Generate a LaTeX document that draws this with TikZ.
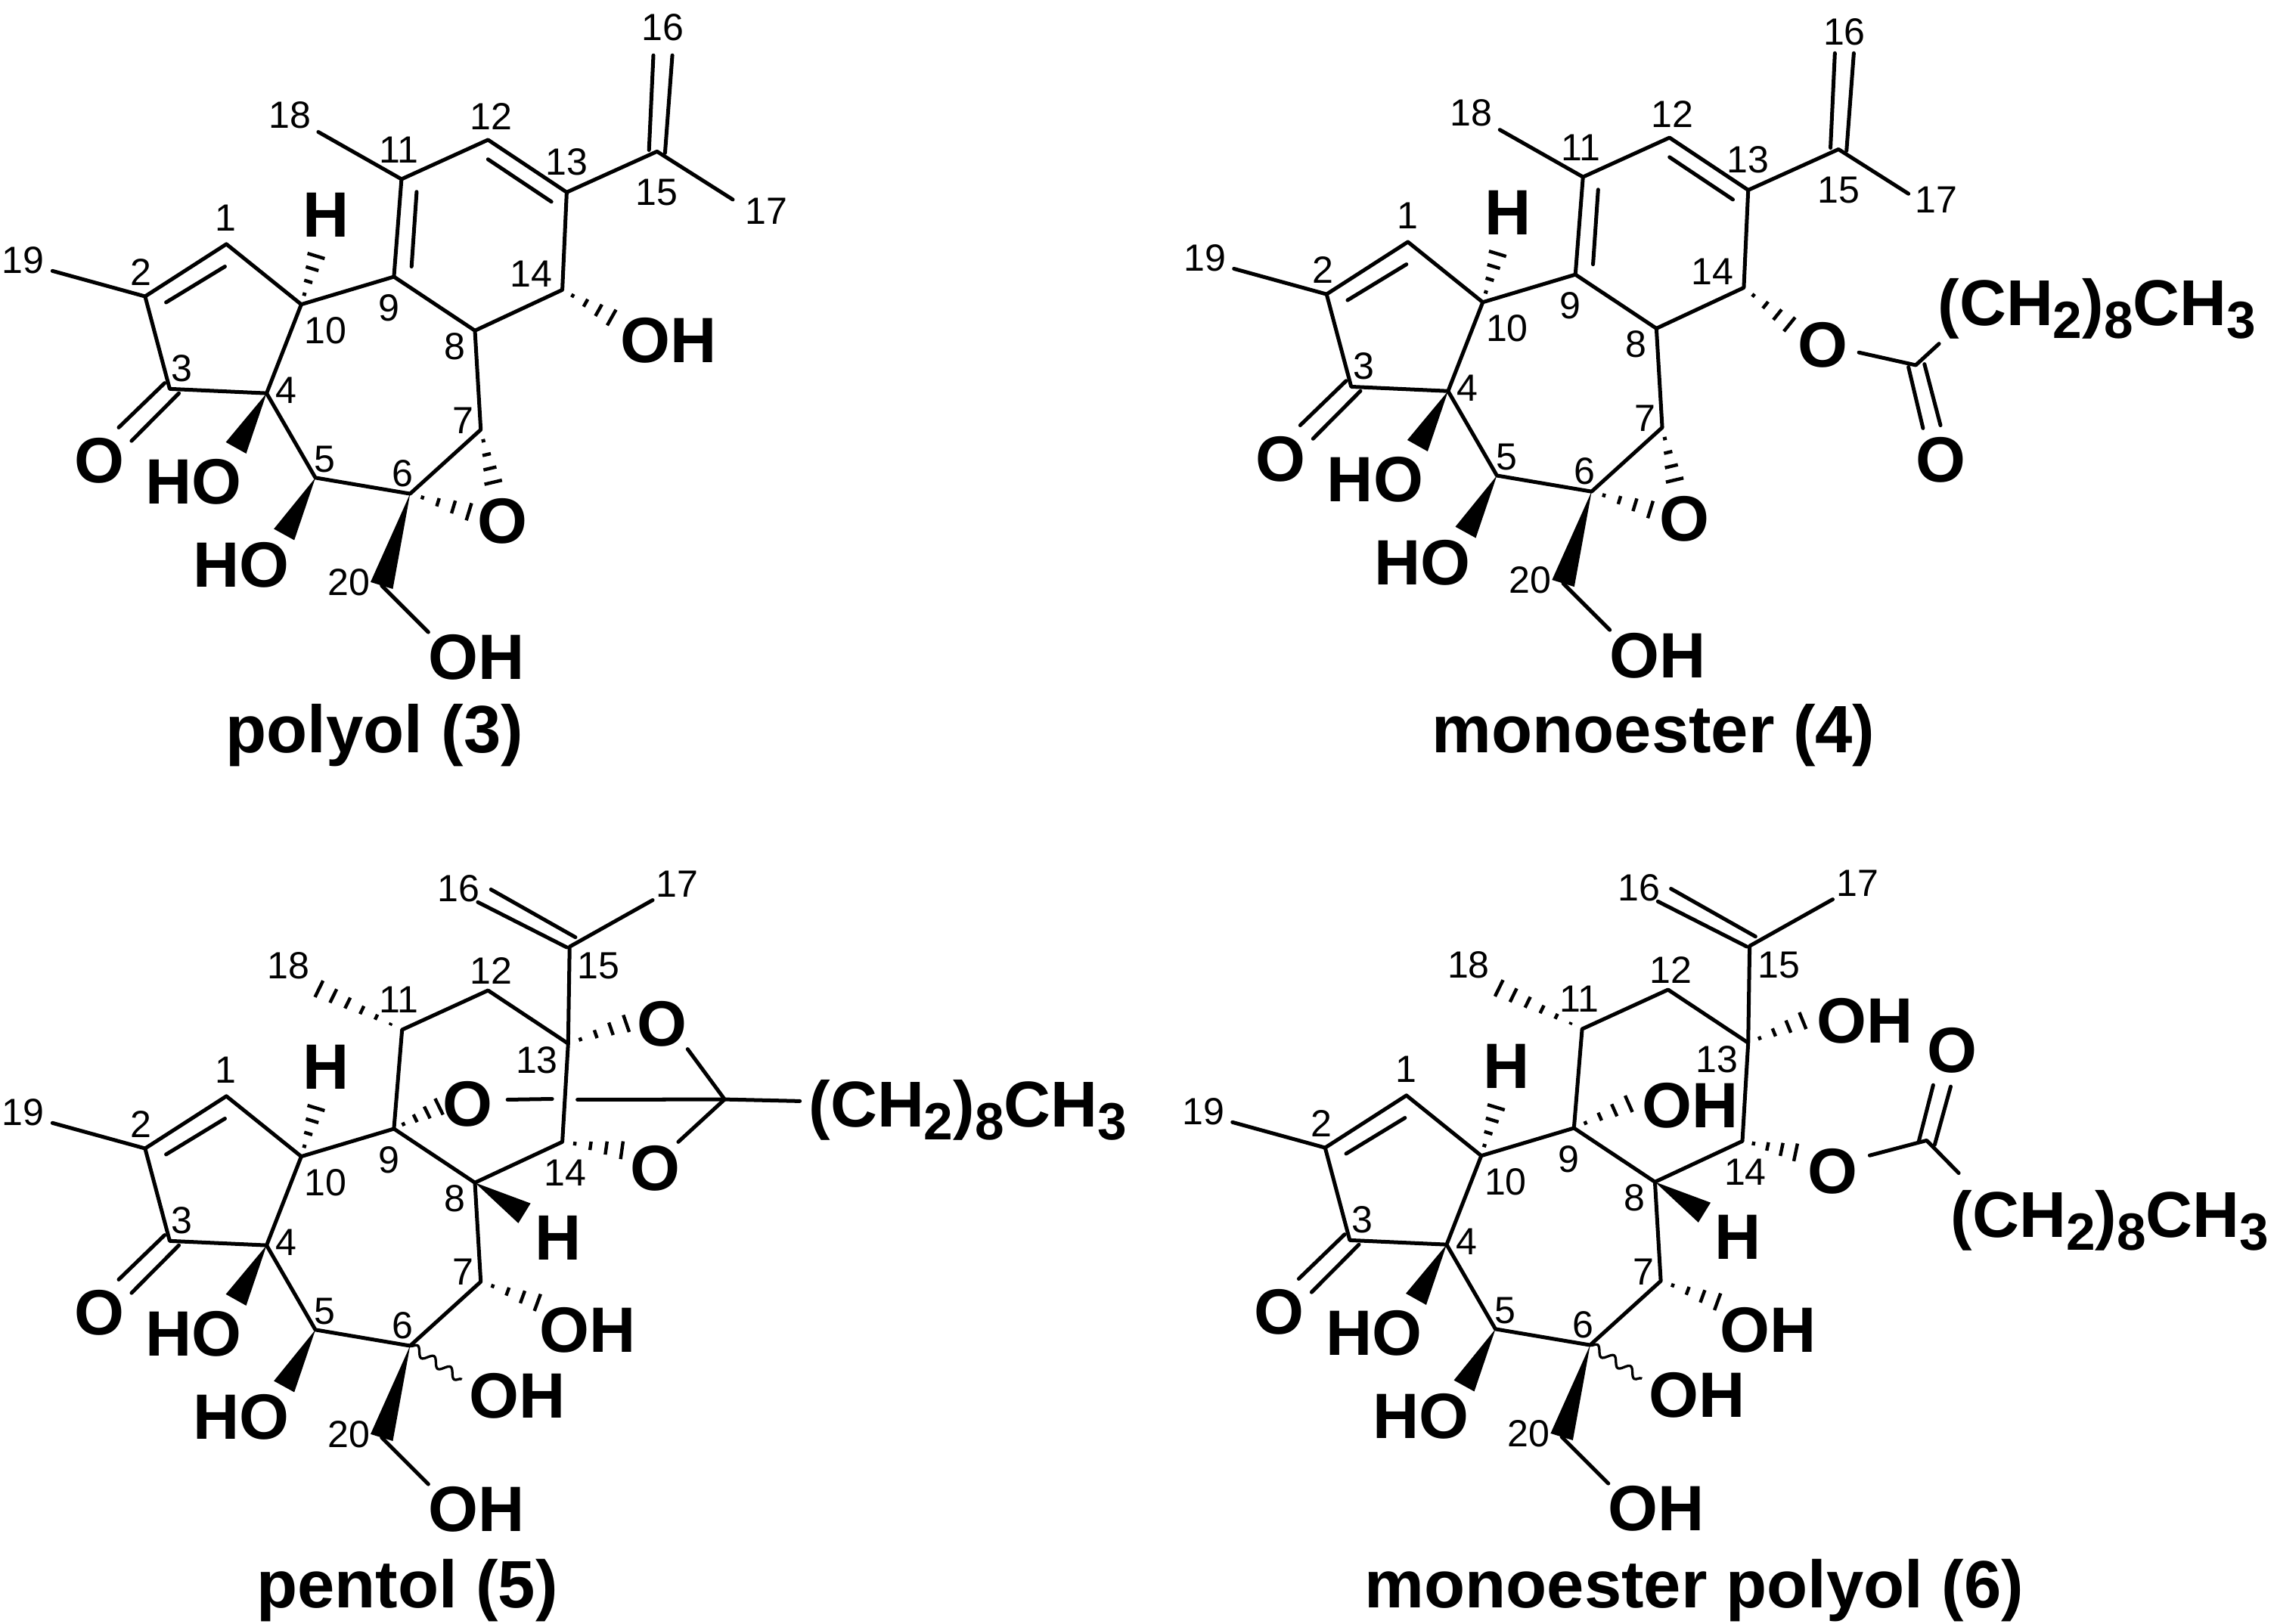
\documentclass[tikz,border=0pt]{standalone}
\usepackage{fontspec}
\setmainfont{Liberation Sans}
\usetikzlibrary{calc,decorations.pathmorphing}
\tikzset{
  x=1pt,y=-1pt,
  bond/.style={line width=2.6pt,line cap=round,line join=round},
  hashline/.style={line width=2.3pt},
  wavy/.style={line width=1.7pt,decorate,decoration={snake,amplitude=3pt,segment length=13.5pt}},
  atomlab/.style={inner sep=0pt,font=\fontsize{44}{44}\selectfont\bfseries},
  chainlab/.style={inner sep=0pt,font=\fontsize{44.5}{44.5}\selectfont\bfseries},
  numlab/.style={inner sep=0pt,font=\fontsize{26}{26}\selectfont},
  caplab/.style={inner sep=0pt,font=\fontsize{46}{46}\selectfont\bfseries}
}
\newcommand{\hashbond}[3]{%
  \foreach \hi in {1,...,#3}{%
    \pgfmathsetmacro\hT{(\hi-0.2)/#3}%
    \pgfmathsetmacro\hW{6.5*\hT}%
    \coordinate (hp) at ($(#1)!\hT!(#2)$);
    \draw[hashline] ($(hp)!\hW pt!90:(#2)$) -- ($(hp)!\hW pt!-90:(#2)$);
  }}
\newcommand{\wedgebond}[3]{%
  \fill ($(#2)!#3 pt!90:(#1)$) -- (#1) -- ($(#2)!#3 pt!-90:(#1)$) -- cycle;}
\newcommand{\chain}{(CH\raisebox{-0.2em}{\fontsize{36}{36}\selectfont 2})\raisebox{-0.2em}{\fontsize{36}{36}\selectfont 8}CH\raisebox{-0.2em}{\fontsize{36}{36}\selectfont 3}}
% rings A and B, common to all four
\newcommand{\CoreMol}{%
  \coordinate (c1) at (155.4,167.6);
  \coordinate (c2) at (99.6,203.5);
  \coordinate (c3) at (116.5,267);
  \coordinate (c4) at (183,270);
  \coordinate (c5) at (216.5,328);
  \coordinate (c6) at (281.5,339);
  \coordinate (c7) at (330,295);
  \coordinate (c8) at (326,227);
  \coordinate (c9) at (270.4,190);
  \coordinate (c10) at (206.8,209);
  \coordinate (c19) at (36,186);
  \coordinate (c20) at (262,402);
  \coordinate (oh20e) at (294,434);
  \coordinate (w4) at (162,307.5);
  \coordinate (w5) at (195,367);
  \coordinate (hh) at (217.5,174);
  \draw[bond] (c1)--(c2)--(c3)--(c4)--(c10)--(c1);
  \draw[bond] (c4)--(c5)--(c6)--(c7)--(c8)--(c9)--(c10);
  \draw[bond] (c2)--(c19);
  \draw[bond] (c20)--(oh20e);
  \draw[bond] (114,207.6)--(154.4,183);
  \draw[bond] (113,263)--(81.5,293.5);
  \draw[bond] (122.8,270)--(90.3,302.7);
  \wedgebond{c4}{w4}{8}
  \wedgebond{c5}{w5}{8}
  \wedgebond{c6}{c20}{8}
  \hashbond{c10}{hh}{4}
  \node[atomlab] (h10) at (224,147.5) {H};
  \node[atomlab] (o3) at (68,316.5) {O};
  \node[atomlab] (ho4) at (133,331) {HO};
  \node[atomlab] (ho5) at (165.5,388) {HO};
  \node[atomlab] (oh20) at (327,451.5) {OH};
  \foreach \nn/\px/\py in {1/155/149.5,2/97/187,3/125/253,4/196.5/268,5/223/315.5,6/276.5/325,7/318/288.5,8/312/238,9/267/211.5,10/223.5/227,19/16/178.5,20/239.5/400}{
    \node[numlab] (n\nn) at (\px,\py) {\nn};}
}
% diene upper ring of 3 and 4; #1 end of C17 bond, #2 label 17, #3 label 16
\newcommand{\DieneTop}[3]{%
  \coordinate (c11) at (275.6,123);
  \coordinate (c12) at (335,96);
  \coordinate (c13) at (389,132);
  \coordinate (c14) at (386,199);
  \coordinate (c15) at (451,104);
  \coordinate (c18) at (218.5,90.6);
  \coordinate (c17) at #1;
  \draw[bond] (c9)--(c11)--(c12)--(c13)--(c14)--(c8);
  \draw[bond] (c11)--(c18);
  \draw[bond] (c13)--(c15)--(c17);
  \draw[bond] (448.5,38)--(445.5,103);
  \draw[bond] (461.5,38)--(456.5,105);
  \draw[bond] (282.5,183)--(286,131.7);
  \draw[bond] (335,109.4)--(378.5,138.5);
  \coordinate (e7) at (339,333);
  \coordinate (e6) at (324,352);
  \hashbond{c7}{e7}{4}
  \hashbond{c6}{e6}{4}
  \node[atomlab] (oe) at (345,358) {O};
  \node[numlab] (n16) at #3 {16};
  \node[numlab] (n17) at #2 {17};
  \foreach \nn/\px/\py in {11/274/103,12/337/80,13/389/111,14/364.5/188,15/451/132,18/199/79}{
    \node[numlab] (n\nn) at (\px,\py) {\nn};}
}
% saturated upper ring of 5 and 6
\newcommand{\SatTop}{%
  \coordinate (c11) at (276,122);
  \coordinate (c12) at (335,95);
  \coordinate (c13) at (390,131.5);
  \coordinate (c14) at (386,199);
  \coordinate (c15) at (391,65);
  \coordinate (c17) at (448,33);
  \coordinate (c18) at (217,93);
  \coordinate (h8e) at (360,248);
  \coordinate (o7e) at (371,310);
  \coordinate (o6e) at (317,362);
  \draw[bond] (c9)--(c11)--(c12)--(c13)--(c14)--(c8);
  \draw[bond] (c13)--(c15)--(c17);
  \draw[bond] (337,25.7)--(395,58.5);
  \draw[bond] (328,34.4)--(389,65.4);
  \hashbond{c11}{c18}{6}
  \wedgebond{c8}{h8e}{8}
  \hashbond{c7}{o7e}{4}
  \draw[wavy] (c6)--(o6e);
  \node[atomlab] (h8) at (383,265) {H};
  \node[atomlab] (oh7) at (403.5,328.5) {OH};
  \node[atomlab] (oh6) at (355,373.5) {OH};
  \foreach \nn/\px/\py in {11/274/101.5,12/337/81.5,13/368.5/143,14/388/220,15/411/78,16/315/25,17/465/22,18/198/78}{
    \node[numlab] (n\nn) at (\px,\py) {\nn};}
}
\begin{document}
\begin{tikzpicture}
\useasboundingbox (0,0) rectangle (1563,1114.5);
% ---- 3
\begin{scope}[name prefix=a-]
  \CoreMol
  \DieneTop{(503,137)}{(526,145)}{(455,19)}
  \coordinate (o14e) at (421.6,219);
  \hashbond{c14}{o14e}{4}
  \node[atomlab] (oh14) at (459,234) {OH};
\end{scope}
\node[caplab] (capa) at (257,505) {polyol (3)};
% ---- 4
\begin{scope}[shift={(811,-1.5)},name prefix=b-]
  \CoreMol
  \DieneTop{(499,134.5)}{(518,138.5)}{(455,23.5)}
\end{scope}
\coordinate (b-o14e) at (1230,224);
\coordinate (b-oo) at (1276,242);
\coordinate (b-cc) at (1315,250.7);
\coordinate (b-cr) at (1331,236);
\hashbond{b-c14}{b-o14e}{4}
\node[atomlab] (b-o14) at (1251,237) {O};
\draw[bond] (b-oo)--(b-cc)--(b-cr);
\draw[bond] (1310,252)--(1320,294);
\draw[bond] (1321,250)--(1332,292);
\node[atomlab] (b-oc) at (1332,316) {O};
\node[chainlab,anchor=west] (b-ch) at (1330,212) {\chain};
\node[caplab] (capb) at (1135,505) {monoester (4)};
% ---- 5
\begin{scope}[shift={(0,585)},name prefix=c-]
  \CoreMol
  \SatTop
\end{scope}
\coordinate (c-ac) at (497.4,754.8);
\coordinate (c-e9) at (303,759);
\coordinate (c-e13) at (432,702);
\coordinate (c-e14) at (429,790);
\coordinate (c-g1) at (348.4,755);
\coordinate (c-g2) at (379,754.5);
\coordinate (c-g3) at (396.4,755);
\coordinate (c-ot) at (472,720.3);
\coordinate (c-ob) at (465.6,784);
\coordinate (c-ch) at (549,756);
\hashbond{c-c9}{c-e9}{4}
\hashbond{c-c13}{c-e13}{4}
\hashbond{c-c14}{c-e14}{4}
\draw[bond] (c-g1)--(c-g2);
\draw[bond] (c-g3)--(c-ac);
\draw[bond] (c-ot)--(c-ac)--(c-ob);
\draw[bond] (c-ac)--(c-ch);
\node[atomlab] (c-o9) at (321,758) {O};
\node[atomlab] (c-o13) at (454.5,703) {O};
\node[atomlab] (c-o14) at (450,802) {O};
\node[chainlab,anchor=west] (c-chain) at (555,762) {\chain};
\node[caplab] (capc) at (279.5,1092) {pentol (5)};
% ---- 6
\begin{scope}[shift={(810,584.5)},name prefix=d-]
  \CoreMol
  \SatTop
\end{scope}
\coordinate (d-e9) at (1120,757);
\coordinate (d-e13) at (1239.4,700);
\coordinate (d-e14) at (1234.5,791.6);
\coordinate (d-oo) at (1283.4,793.3);
\coordinate (d-cc) at (1322.5,783);
\coordinate (d-cr) at (1344.5,805.4);
\hashbond{d-c9}{d-e9}{4}
\hashbond{d-c13}{d-e13}{4}
\hashbond{d-c14}{d-e14}{4}
\node[atomlab] (d-oh9) at (1160,759) {OH};
\node[atomlab] (d-oh13) at (1280,701) {OH};
\node[atomlab] (d-o14) at (1258,804) {O};
\draw[bond] (d-oo)--(d-cc)--(d-cr);
\draw[bond] (1317,784)--(1327,745);
\draw[bond] (1328,786)--(1339,746);
\node[atomlab] (d-oc) at (1340,721) {O};
\node[chainlab,anchor=west] (d-chain) at (1339,838) {\chain};
\node[caplab] (capd) at (1163,1092) {monoester polyol (6)};
\end{tikzpicture}
\end{document}
